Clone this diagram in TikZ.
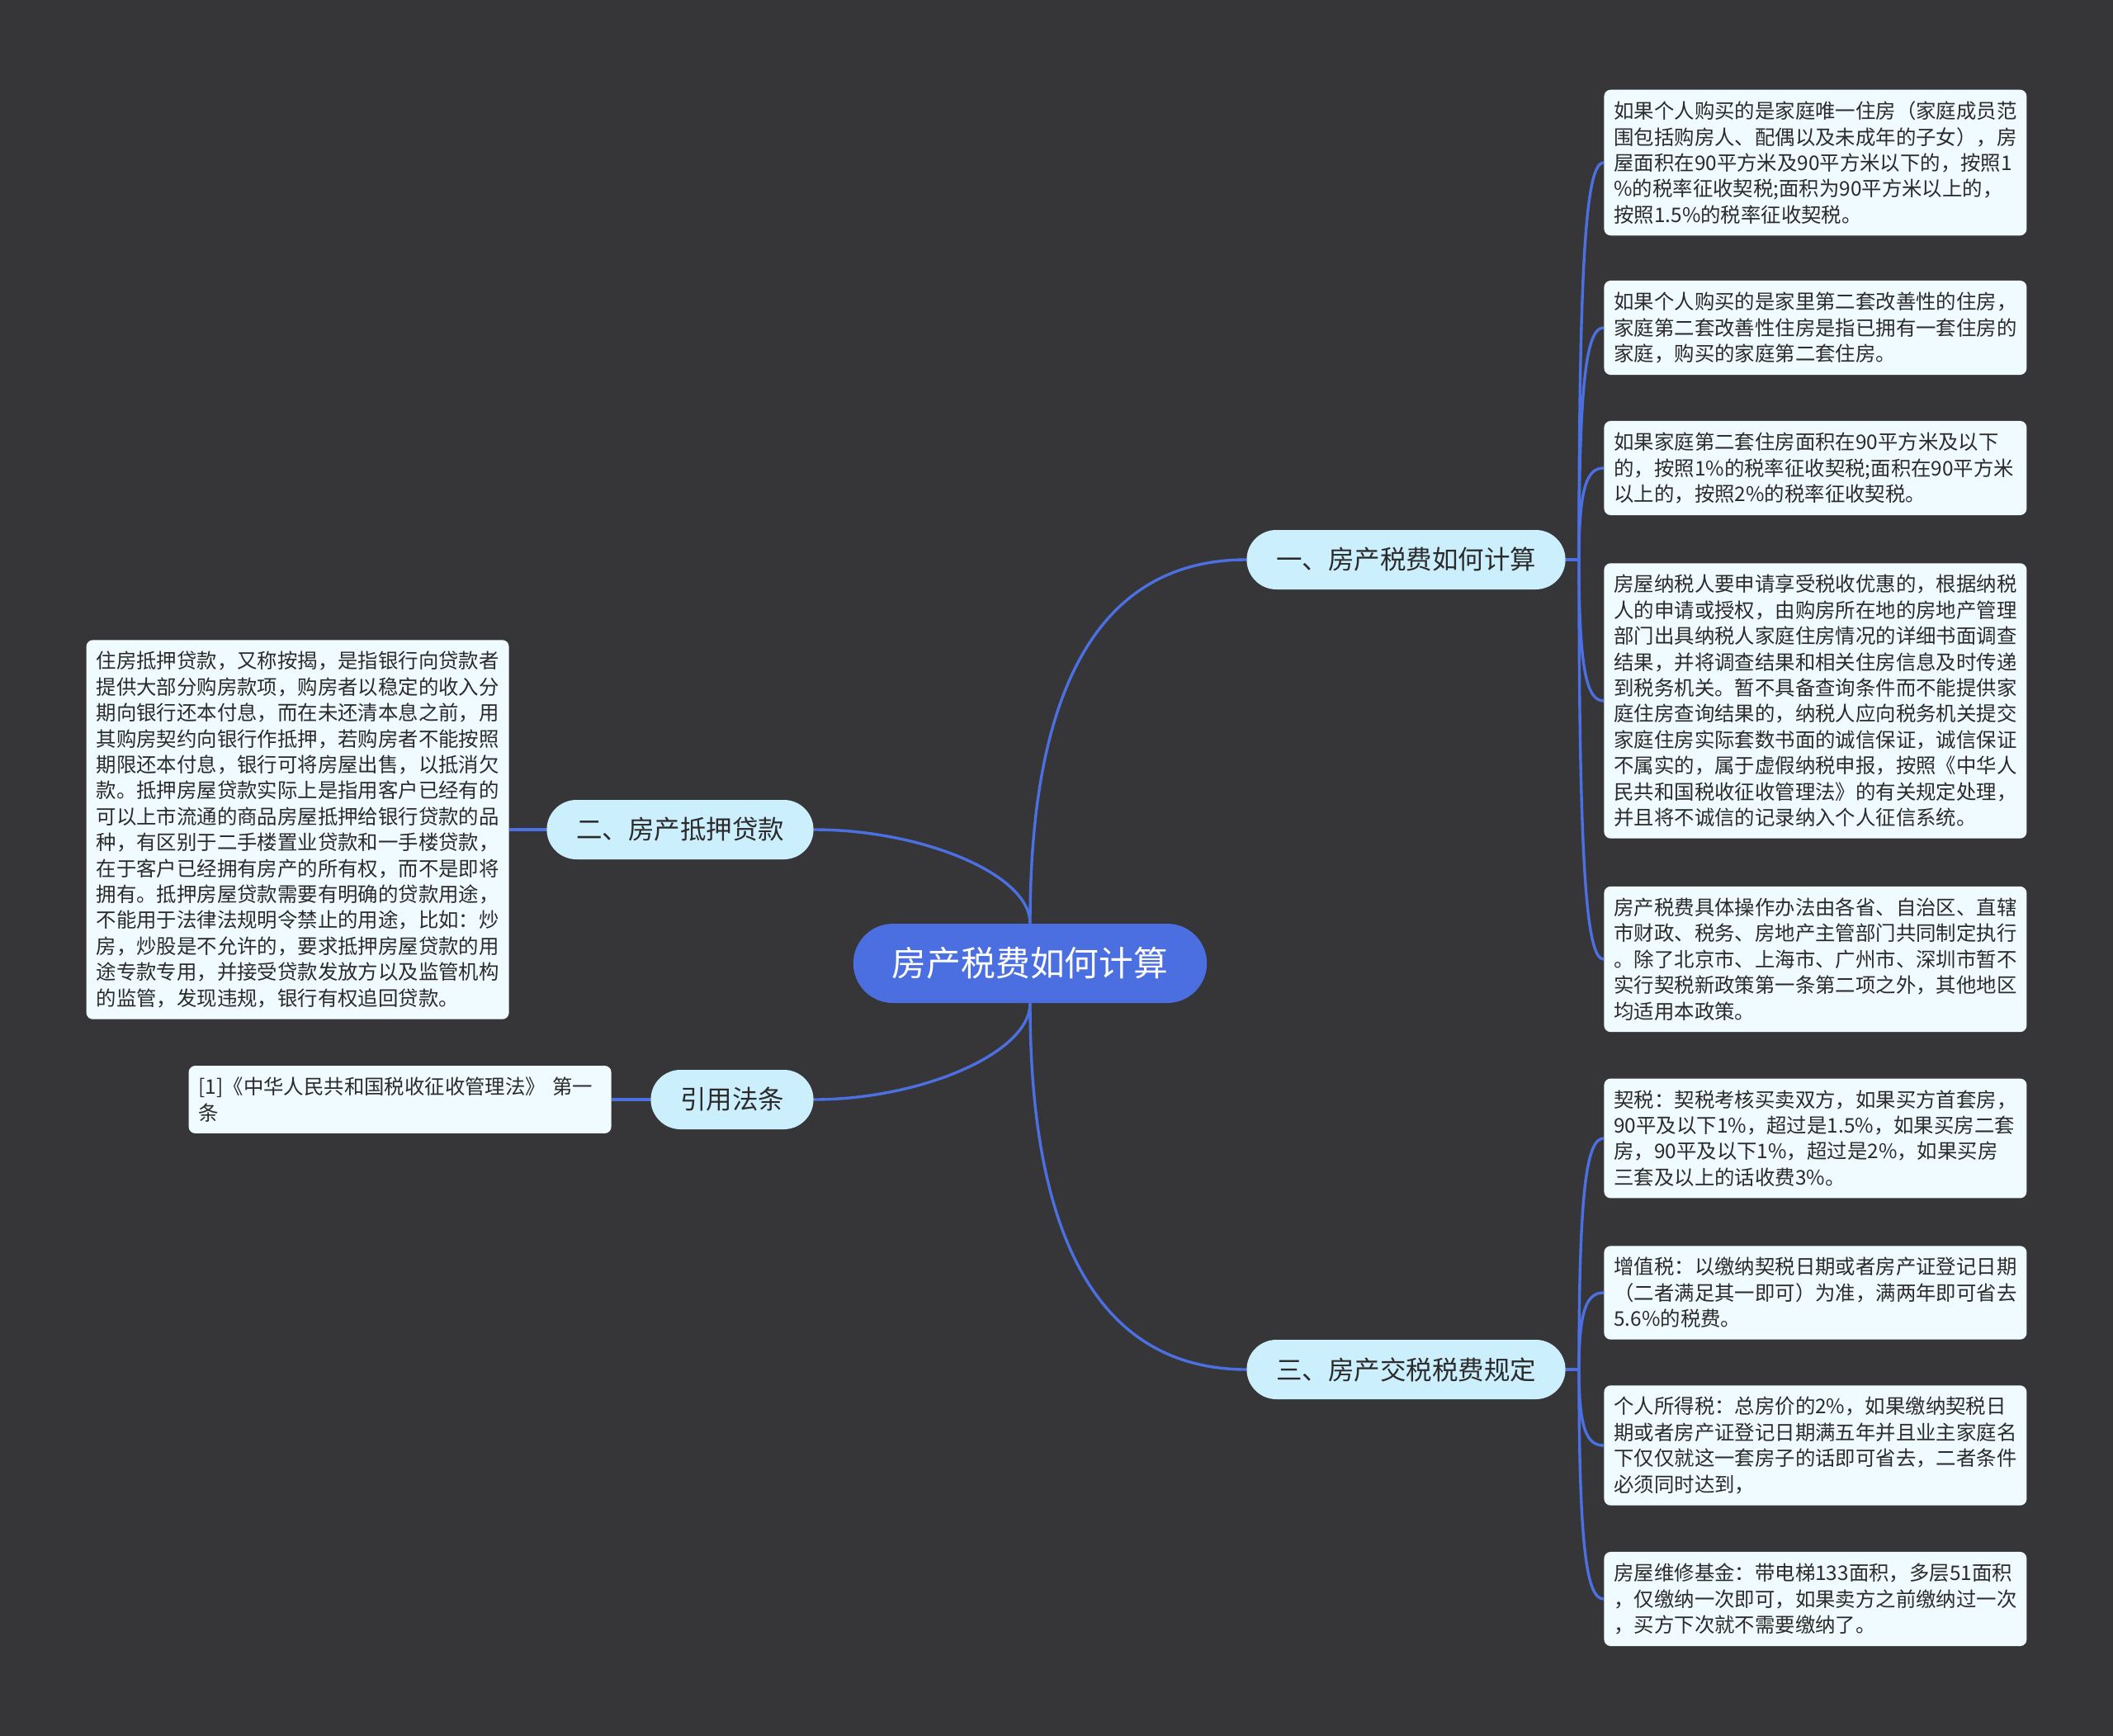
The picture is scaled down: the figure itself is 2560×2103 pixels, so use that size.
\documentclass[tikz,border=0pt]{standalone}
\usepackage{fontspec}
\setmainfont{Noto Sans CJK SC}
\definecolor{bgc}{HTML}{363638}
\definecolor{rootc}{HTML}{4B6FE0}
\definecolor{linkc}{HTML}{4C70E2}
\definecolor{subc}{HTML}{CCEFFD}
\definecolor{leafc}{HTML}{F0FBFF}
\definecolor{txtc}{HTML}{2B2B2B}
\begin{document}
\begin{tikzpicture}[x=0.5pt, y=-0.5pt,
  link/.style={draw=linkc, line width=1.7pt},
  rootnode/.style={fill=rootc, text=white, rounded corners=24pt, minimum height=48pt, inner xsep=23.5pt, font=\fontsize{20.9}{24}\selectfont},
  topic/.style={fill=subc, text=txtc, rounded corners=18pt, minimum height=36pt, inner xsep=17.8pt, font=\fontsize{15.75}{18}\selectfont},
  leaf/.style={fill=leafc, text=txtc, rounded corners=4pt, align=left, text width=244pt, inner xsep=6pt, inner ysep=7pt, font=\fontsize{12.2}{15.7}\selectfont}]
  \useasboundingbox (0,0) rectangle (2560,2103);
  \fill[bgc] (0,0) rectangle (2560,2103);

  % centre and main topics
  \node[rootnode] (root) at (1248,1167) {房产税费如何计算};
  \node[topic, anchor=west] (t1) at (1510,678) {一、房产税费如何计算};
  \node[topic, anchor=west] (t3) at (1510,1659) {三、房产交税税费规定};
  \node[topic, anchor=east] (t2) at (986,1005) {二、房产抵押贷款};
  \node[topic, anchor=east] (t4) at (986,1332) {引用法条};

  % leaves of topic one
  \node[leaf, anchor=west] (l1) at (1943,197) {如果个人购买的是家庭唯一住房（家庭成员范\\围包括购房人、配偶以及未成年的子女），房\\屋面积在90平方米及90平方米以下的，按照1\\\%的税率征收契税;面积为90平方米以上的，\\按照1.5\%的税率征收契税。};
  \node[leaf, anchor=west] (l2) at (1943,397) {如果个人购买的是家里第二套改善性的住房，\\家庭第二套改善性住房是指已拥有一套住房的\\家庭，购买的家庭第二套住房。};
  \node[leaf, anchor=west] (l3) at (1943,567) {如果家庭第二套住房面积在90平方米及以下\\的，按照1\%的税率征收契税;面积在90平方米\\以上的，按照2\%的税率征收契税。};
  \node[leaf, anchor=west] (l4) at (1943,849) {房屋纳税人要申请享受税收优惠的，根据纳税\\人的申请或授权，由购房所在地的房地产管理\\部门出具纳税人家庭住房情况的详细书面调查\\结果，并将调查结果和相关住房信息及时传递\\到税务机关。暂不具备查询条件而不能提供家\\庭住房查询结果的，纳税人应向税务机关提交\\家庭住房实际套数书面的诚信保证，诚信保证\\不属实的，属于虚假纳税申报，按照《中华人\\民共和国税收征收管理法》的有关规定处理，\\并且将不诚信的记录纳入个人征信系统。};
  \node[leaf, anchor=west] (l5) at (1943,1162) {房产税费具体操作办法由各省、自治区、直辖\\市财政、税务、房地产主管部门共同制定执行\\。除了北京市、上海市、广州市、深圳市暂不\\实行契税新政策第一条第二项之外，其他地区\\均适用本政策。};

  % leaves of topic three
  \node[leaf, anchor=west] (l6) at (1943,1379) {契税：契税考核买卖双方，如果买方首套房，\\90平及以下1\%，超过是1.5\%，如果买房二套\\房，90平及以下1\%，超过是2\%，如果买房\\三套及以上的话收费3\%。};
  \node[leaf, anchor=west] (l7) at (1943,1566) {增值税：以缴纳契税日期或者房产证登记日期\\（二者满足其一即可）为准，满两年即可省去\\5.6\%的税费。};
  \node[leaf, anchor=west] (l8) at (1943,1751) {个人所得税：总房价的2\%，如果缴纳契税日\\期或者房产证登记日期满五年并且业主家庭名\\下仅仅就这一套房子的话即可省去，二者条件\\必须同时达到，};
  \node[leaf, anchor=west] (l9) at (1943,1937) {房屋维修基金：带电梯133面积，多层51面积\\，仅缴纳一次即可，如果卖方之前缴纳过一次\\，买方下次就不需要缴纳了。};

  % left leaves
  \node[leaf, anchor=east] (l10) at (617,1005) {住房抵押贷款，又称按揭，是指银行向贷款者\\提供大部分购房款项，购房者以稳定的收入分\\期向银行还本付息，而在未还清本息之前，用\\其购房契约向银行作抵押，若购房者不能按照\\期限还本付息，银行可将房屋出售，以抵消欠\\款。抵押房屋贷款实际上是指用客户已经有的\\可以上市流通的商品房屋抵押给银行贷款的品\\种，有区别于二手楼置业贷款和一手楼贷款，\\在于客户已经拥有房产的所有权，而不是即将\\拥有。抵押房屋贷款需要有明确的贷款用途，\\不能用于法律法规明令禁止的用途，比如：炒\\房，炒股是不允许的，要求抵押房屋贷款的用\\途专款专用，并接受贷款发放方以及监管机构\\的监管，发现违规，银行有权追回贷款。};
  \node[leaf, anchor=east] (l11) at (741,1332) {[1]《中华人民共和国税收征收管理法》 第一\\条};

  % root to topics
  \draw[link] (root.north) .. controls +(0,-330) and +(-150,0) .. (t1.west);
  \draw[link] (root.south) .. controls +(0,330) and +(-150,0) .. (t3.west);
  \draw[link] (root.north) .. controls +(0,-60) and +(130,0) .. (t2.east);
  \draw[link] (root.south) .. controls +(0,60) and +(130,0) .. (t4.east);

  % topic one to its leaves
  \draw[link] (t1.east) -- ++(16,0) coordinate (t1s);
  \draw[link] (t1s) .. controls +(0,-385) and +(-20,0) .. (l1.west);
  \draw[link] (t1s) .. controls +(0,-225) and +(-20,0) .. (l2.west);
  \draw[link] (t1s) .. controls +(0,-89) and +(-20,0) .. (l3.west);
  \draw[link] (t1s) .. controls +(0,137) and +(-20,0) .. (l4.west);
  \draw[link] (t1s) .. controls +(0,387) and +(-20,0) .. (l5.west);

  % topic three to its leaves
  \draw[link] (t3.east) -- ++(16,0) coordinate (t3s);
  \draw[link] (t3s) .. controls +(0,-224) and +(-20,0) .. (l6.west);
  \draw[link] (t3s) .. controls +(0,-74) and +(-20,0) .. (l7.west);
  \draw[link] (t3s) .. controls +(0,74) and +(-20,0) .. (l8.west);
  \draw[link] (t3s) .. controls +(0,222) and +(-20,0) .. (l9.west);

  % left topics to their leaves
  \draw[link] (t2.west) -- (l10.east);
  \draw[link] (t4.west) -- (l11.east);
\end{tikzpicture}
\end{document}
